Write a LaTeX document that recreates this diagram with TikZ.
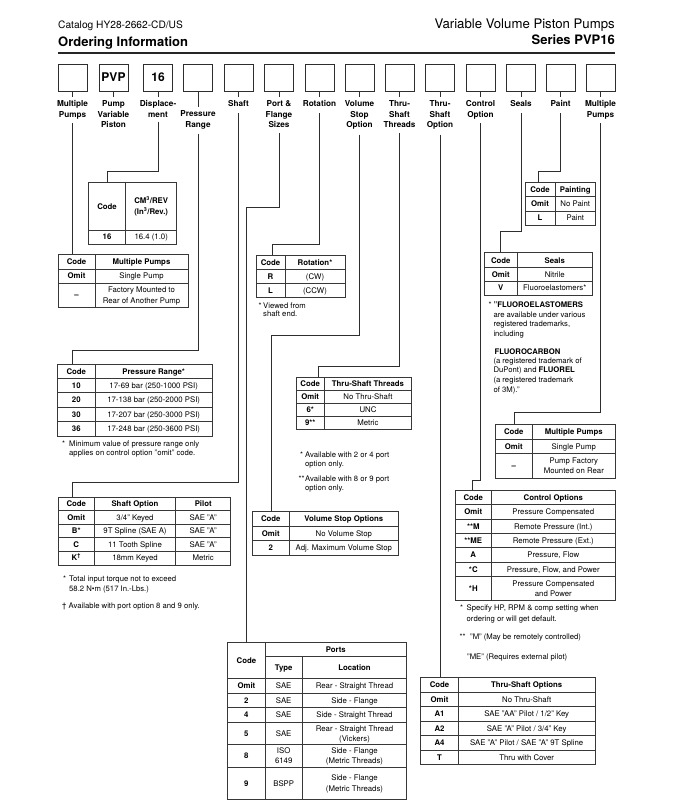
\documentclass[tikz,border=0pt]{standalone}
\usepackage{fontspec}
\setmainfont{TeX Gyre Heros}
\usetikzlibrary{calc}
\newcounter{cellno}
\tikzset{
 tab/.style={draw=black!78, line width=0.75pt},
 conn/.style={draw=black!82, line width=0.8pt},
 topbox/.style={draw=black!82, line width=0.9pt, minimum width=29pt, minimum height=27pt, inner sep=0pt, font=\bfseries\fontsize{12}{14}\selectfont},
 lbl/.style={font=\bfseries\fontsize{8.2}{10.5}\selectfont, align=center, inner sep=0pt, anchor=north},
 td/.style={font=\fontsize{7.8}{9}\selectfont, inner sep=0pt, text height=5.6pt, text depth=0pt},
 tdb/.style={font=\bfseries\fontsize{7.8}{9}\selectfont, inner sep=0pt, text height=5.6pt, text depth=0pt},
 fnote/.style={font=\fontsize{7.7}{9}\selectfont, inner sep=0pt, anchor=base west},
}
\newcommand\cell[3]{\stepcounter{cellno}\node[#1] (cell\thecellno) at (#2) {#3};}
\newcommand\fn[2]{\stepcounter{cellno}\node[fnote] (fn\thecellno) at (#1) {#2};}
\newcommand\tgrid[6]{%
 \draw[tab] (#1,#4) rectangle (#2,#5);
 \foreach \s in {#3} {\draw[tab] (\s,#4) -- (\s,#5);}
 \foreach \h in {#6} {\draw[tab] (#1,\h) -- (#2,\h);}
}
\begin{document}
\begin{tikzpicture}[x=1pt,y=-1pt]
\useasboundingbox (0,0) rectangle (672,810);

% header
\node[anchor=base west, inner sep=0pt, font=\fontsize{10.2}{11}\selectfont] (cat) at (58,28.6) {Catalog HY28-2662-CD/US};
\node[anchor=base west, inner sep=0pt, font=\bfseries\fontsize{13}{14}\selectfont] (ord) at (58,46.7) {Ordering Information};
\node[anchor=base east, inner sep=0pt, font=\fontsize{13.2}{15}\selectfont] (vv) at (615,28.7) {Variable Volume Piston Pumps};
\node[anchor=base east, inner sep=0pt, font=\bfseries\fontsize{13}{15}\selectfont] (ser) at (615,44.7) {Series PVP16};
\draw[line width=1.6pt, draw=black!85] (58,53) -- (615,53);

% top boxes
\node[topbox] (b1) at (72.5,77.5) {};
\node[topbox] (b2) at (113.5,77.5) {PVP};
\node[topbox] (b3) at (158,77.5) {16};
\node[topbox] (b4) at (198,77.5) {};
\node[topbox] (b5) at (238.5,77.5) {};
\node[topbox] (b6) at (279,77.5) {};
\node[topbox] (b7) at (319.5,77.5) {};
\node[topbox] (b8) at (359.5,77.5) {};
\node[topbox] (b9) at (399.5,77.5) {};
\node[topbox] (b10) at (440,77.5) {};
\node[topbox] (b11) at (480.5,77.5) {};
\node[topbox] (b12) at (521,77.5) {};
\node[topbox] (b13) at (560.5,77.5) {};
\node[topbox] (b14) at (600.5,77.5) {};

% labels
\node[lbl] (l1) at (72.5,100.5) {Multiple\\Pumps};
\node[lbl] (l2) at (113.5,100.5) {Pump\\Variable\\Piston};
\node[lbl] (l3) at (158,100.5) {Displace-\\ment};
\node[lbl] (l4) at (198,110.5) {Pressure\\Range};
\node[lbl] (l5) at (238.5,100.5) {Shaft};
\node[lbl] (l6) at (279,100.5) {Port \&\\Flange\\Sizes};
\node[lbl] (l7) at (319.5,100.5) {Rotation};
\node[lbl] (l8) at (359.5,100.5) {Volume\\Stop\\Option};
\node[lbl] (l9) at (399.5,100.5) {Thru-\\Shaft\\Threads};
\node[lbl] (l10) at (440,100.5) {Thru-\\Shaft\\Option};
\node[lbl] (l11) at (480.5,100.5) {Control\\Option};
\node[lbl] (l12) at (521,100.5) {Seals};
\node[lbl] (l13) at (560.5,100.5) {Paint};
\node[lbl] (l14) at (600.5,100.5) {Multiple\\Pumps};

% ticks
\foreach \i in {1,2,3,5,6,7,8,9,10,11,12,13,14} {\draw[conn] (b\i.south) -- ($(l\i.north)+(0,-3)$);}
\draw[conn] (b4.south) -- ($(l4.north)+(0,-3.5)$);

% table entry points
\coordinate (mpL-in) at (72.5,254);
\coordinate (disp-in) at (107.7,182.7);
\coordinate (pr-in) at (72.3,364.3);
\coordinate (sh-in) at (72.3,497.3);
\coordinate (po-in) at (246.5,642.3);
\coordinate (ro-in) at (272,255);
\coordinate (vs-in) at (271.7,511.7);
\coordinate (tt-in) at (318.3,377.3);
\coordinate (to-in) at (440,677.3);
\coordinate (co-in) at (472.7,490);
\coordinate (se-in) at (500.7,252.7);
\coordinate (pa-in) at (538.5,182.3);
\coordinate (mr-in) at (514.3,424.3);

% connectors
\draw[conn] ($(l1.south)+(0,4)$) -- (mpL-in);
\draw[conn] ($(l3.south)+(0,4)$) |- ($(disp-in)+(0,-11)$) -- (disp-in);
\draw[conn] ($(l4.south)+(0,5)$) |- ($(pr-in)+(0,-14.3)$) -- (pr-in);
\draw[conn] ($(l5.south)+(0,6)$) |- ($(sh-in)+(0,-15.3)$) -- (sh-in);
\draw[conn] ($(l6.south)+(0,5)$) |- ($(po-in)+(0,-434.6)$) -- (po-in);
\draw[conn] ($(l7.south)+(0,6)$) |- ($(ro-in)+(0,-11)$) -- (ro-in);
\draw[conn] ($(l8.south)+(0,5)$) |- ($(vs-in)+(0,-176)$) -- (vs-in);
\draw[conn] ($(l9.south)+(0,5)$) |- ($(tt-in)+(0,-11.3)$) -- (tt-in);
\draw[conn] ($(l10.south)+(0,5)$) -- (to-in);
\draw[conn] ($(l11.south)+(0,4)$) |- ($(co-in)+(0,-10)$) -- (co-in);
\draw[conn] ($(l12.south)+(0,6)$) |- ($(se-in)+(0,-21)$) -- (se-in);
\draw[conn] ($(l13.south)+(0,6)$) |- ($(pa-in)+(0,-11.3)$) -- (pa-in);
\draw[conn] ($(l14.south)+(0,4)$) |- ($(mr-in)+(0,-11.6)$) -- (mr-in);

% Displacement table
\tgrid{88.3}{176.7}{125.7}{182.7}{244}{230}
\cell{tdb}{107,206.3}{Code}
\cell{tdb}{151.2,201}{CM\textsuperscript{3}/REV}
\cell{tdb}{151.2,211.5}{(In\textsuperscript{3}/Rev.)}
\cell{tdb}{107,237}{16}
\cell{td}{151.2,237}{16.4 (1.0)}

% Multiple pumps (left)
\tgrid{58}{188}{95}{254}{307}{269,283}
\cell{tdb}{76.5,261.5}{Code}
\cell{tdb}{141.5,261.5}{Multiple Pumps}
\cell{tdb}{76.5,276}{Omit}
\cell{td}{141.5,276}{Single Pump}
\cell{tdb}{76.5,295}{–}
\cell{td}{141.5,290}{Factory Mounted to}
\cell{td}{141.5,300.5}{Rear of Another Pump}

% Pressure range
\tgrid{57.7}{212.3}{95}{364.3}{436}{378.3,392.7,407.3,421.7}
\cell{tdb}{76.3,371.3}{Code}
\cell{tdb}{153.7,371.3}{Pressure Range*}
\cell{tdb}{76.3,385.5}{10}
\cell{td}{153.7,385.5}{17-69 bar (250-1000 PSI)}
\cell{tdb}{76.3,400}{20}
\cell{td}{153.7,400}{17-138 bar (250-2000 PSI)}
\cell{tdb}{76.3,414.5}{30}
\cell{td}{153.7,414.5}{17-207 bar (250-3000 PSI)}
\cell{tdb}{76.3,428.9}{36}
\cell{td}{153.7,428.9}{17-248 bar (250-3600 PSI)}
\fn{62,446.6}{*}
\fn{69,446.6}{Minimum value of pressure range only}
\fn{69,455.6}{applies on control option "omit" code.}

% Shaft
\tgrid{58.3}{230.7}{94.3,175.7}{497.3}{565}{510.7,524,537.7,551}
\cell{tdb}{76.3,504}{Code}
\cell{tdb}{135,504}{Shaft Option}
\cell{tdb}{203.2,504}{Pilot}
\cell{tdb}{76.3,517.3}{Omit}
\cell{td}{135,517.3}{3/4" Keyed}
\cell{td}{203.2,517.3}{SAE "A"}
\cell{tdb}{76.3,530.9}{B*}
\cell{td}{135,530.9}{9T Spline (SAE A)}
\cell{td}{203.2,530.9}{SAE "A"}
\cell{tdb}{76.3,544.4}{C}
\cell{td}{135,544.4}{11 Tooth Spline}
\cell{td}{203.2,544.4}{SAE "A"}
\cell{tdb}{76.3,558}{K\textsuperscript{\textdagger}}
\cell{td}{135,558}{18mm Keyed}
\cell{td}{203.2,558}{Metric}
\fn{63,581.6}{*}
\fn{69,581.6}{Total input torque not to exceed}
\fn{69,591}{58.2 N•m (517 In.-Lbs.)}
\fn{62,608.6}{\textdagger}
\fn{68.5,608.6}{Available with port option 8 and 9 only.}

% Rotation
\tgrid{256}{345}{285}{255}{297.7}{269.3,283.3}
\cell{tdb}{270.5,262.2}{Code}
\cell{tdb}{315,262.2}{Rotation*}
\cell{tdb}{270.5,276.3}{R}
\cell{td}{315,276.3}{(CW)}
\cell{tdb}{270.5,290.5}{L}
\cell{td}{315,290.5}{(CCW)}
\fn{258.5,308.3}{*}
\fn{263,308.3}{Viewed from}
\fn{263,316.6}{shaft end.}

% Volume stop
\tgrid{252.3}{398.3}{289.3}{511.7}{555}{526,540.7}
\cell{tdb}{270.8,518.9}{Code}
\cell{tdb}{343.8,518.9}{Volume Stop Options}
\cell{tdb}{270.8,533.4}{Omit}
\cell{td}{343.8,533.4}{No Volume Stop}
\cell{tdb}{270.8,547.9}{2}
\cell{td}{343.8,547.9}{Adj. Maximum Volume Stop}

% Thru-shaft threads
\tgrid{296}{411.7}{324.3}{377.3}{429.3}{390,403.3,416.7}
\cell{tdb}{310.2,383.7}{Code}
\cell{tdb}{368,383.7}{Thru-Shaft Threads}
\cell{tdb}{310.2,396.7}{Omit}
\cell{td}{368,396.7}{No Thru-Shaft}
\cell{tdb}{310.2,410}{6*}
\cell{td}{368,410}{UNC}
\cell{tdb}{310.2,423}{9**}
\cell{td}{368,423}{Metric}
\fn{300,457.6}{*}
\fn{305,457.6}{Available with 2 or 4 port}
\fn{305,466}{option only.}
\fn{298.5,481.6}{**}
\fn{305,481.6}{Available with 8 or 9 port}
\fn{305,490}{option only.}

% Ports
\draw[tab] (227.7,642.3) rectangle (406.7,799);
\draw[tab] (265,642.3) -- (265,799);
\draw[tab] (302.3,656.7) -- (302.3,799);
\draw[tab] (265,656.7) -- (406.7,656.7);
\foreach \h in {678.3,693.3,707.7,722.3,744,767.3} {\draw[tab] (227.7,\h) -- (406.7,\h);}
\cell{tdb}{246.4,660.3}{Code}
\cell{tdb}{335.8,649.5}{Ports}
\cell{tdb}{283.7,667.5}{Type}
\cell{tdb}{354.5,667.5}{Location}
\cell{tdb}{246.4,685.8}{Omit}
\cell{td}{283.7,685.8}{SAE}
\cell{td}{354.5,685.8}{Rear - Straight Thread}
\cell{tdb}{246.4,700.5}{2}
\cell{td}{283.7,700.5}{SAE}
\cell{td}{354.5,700.5}{Side - Flange}
\cell{tdb}{246.4,715}{4}
\cell{td}{283.7,715}{SAE}
\cell{td}{354.5,715}{Side - Straight Thread}
\cell{tdb}{246.4,733.2}{5}
\cell{td}{283.7,733.2}{SAE}
\cell{td}{354.5,728.8}{Rear - Straight Thread}
\cell{td}{354.5,738.6}{(Vickers)}
\cell{tdb}{246.4,755.7}{8}
\cell{td}{283.7,751}{ISO}
\cell{td}{283.7,761}{6149}
\cell{td}{354.5,751}{Side - Flange}
\cell{td}{354.5,761}{(Metric Threads)}
\cell{tdb}{246.4,783.2}{9}
\cell{td}{283.7,783.2}{BSPP}
\cell{td}{354.5,778}{Side - Flange}
\cell{td}{354.5,788.5}{(Metric Threads)}

% Thru-shaft options
\tgrid{420.7}{595}{458.3}{677.3}{764.3}{692,706.7,721,735.7,750}
\cell{tdb}{439.5,684.7}{Code}
\cell{tdb}{526.7,684.7}{Thru-Shaft Options}
\cell{tdb}{439.5,699.3}{Omit}
\cell{td}{526.7,699.3}{No Thru-Shaft}
\cell{tdb}{439.5,713.8}{A1}
\cell{td}{526.7,713.8}{SAE "AA" Pilot / 1/2" Key}
\cell{tdb}{439.5,728.3}{A2}
\cell{td}{526.7,728.3}{SAE "A" Pilot / 3/4" Key}
\cell{tdb}{439.5,742.8}{A4}
\cell{td}{526.7,742.8}{SAE "A" Pilot / SAE "A" 9T Spline}
\cell{tdb}{439.5,757.2}{T}
\cell{td}{526.7,757.2}{Thru with Cover}

% Control options
\tgrid{455}{615}{491.7}{490}{600}{504.3,519,533.3,547.7,562.3,576.7}
\cell{tdb}{473.3,497.2}{Code}
\cell{tdb}{553.3,497.2}{Control Options}
\cell{tdb}{473.3,511.7}{Omit}
\cell{td}{553.3,511.7}{Pressure Compensated}
\cell{tdb}{473.3,526.2}{**M}
\cell{td}{553.3,526.2}{Remote Pressure (Int.)}
\cell{tdb}{473.3,540.5}{**ME}
\cell{td}{553.3,540.5}{Remote Pressure (Ext.)}
\cell{tdb}{473.3,555}{A}
\cell{td}{553.3,555}{Pressure, Flow}
\cell{tdb}{473.3,569.5}{*C}
\cell{td}{553.3,569.5}{Pressure, Flow, and Power}
\cell{tdb}{473.3,588.3}{*H}
\cell{td}{553.3,583.3}{Pressure Compensated}
\cell{td}{553.3,593.3}{and Power}
\fn{460,610}{*}
\fn{466.5,610}{Specify HP, RPM \& comp setting when}
\fn{466.5,621}{ordering or will get default.}
\fn{459.5,639.3}{**}
\fn{470,639.3}{"M" (May be remotely controlled)}
\fn{467,659.6}{"ME" (Requires external pilot)}

% Multiple pumps (right)
\tgrid{495}{615}{532.7}{424.3}{478.3}{439.3,453.3}
\cell{tdb}{513.8,431.8}{Code}
\cell{tdb}{573.8,431.8}{Multiple Pumps}
\cell{tdb}{513.8,446.3}{Omit}
\cell{td}{573.8,446.3}{Single Pump}
\cell{tdb}{513.8,465.8}{–}
\cell{td}{573.8,461}{Pump Factory}
\cell{td}{573.8,470.7}{Mounted on Rear}

% Seals
\tgrid{484.3}{592.3}{517.3}{252.7}{295}{267.7,281}
\cell{tdb}{500.8,260.2}{Code}
\cell{tdb}{554.8,260.2}{Seals}
\cell{tdb}{500.8,274.3}{Omit}
\cell{td}{554.8,274.3}{Nitrile}
\cell{tdb}{500.8,288}{V}
\cell{td}{554.8,288}{Fluoroelastomers*}
\fn{488.3,307}{*}
\fn{493.3,307}{\bfseries "FLUOROELASTOMERS}
\fn{493.3,317}{are available under various}
\fn{493.3,326.7}{registered trademarks,}
\fn{493.3,336}{including}
\fn{494.5,354.3}{\bfseries FLUOROCARBON}
\fn{493.3,363.7}{(a registered trademark of}
\fn{493.3,372.7}{DuPont) and \textbf{FLUOREL}}
\fn{493.3,382.7}{(a registered trademark}
\fn{493.3,392.7}{of 3M)."}

% Paint
\tgrid{525}{595.7}{555}{182.3}{225}{196.7,211}
\cell{tdb}{540,189.5}{Code}
\cell{tdb}{575.3,189.5}{Painting}
\cell{tdb}{540,203.8}{Omit}
\cell{td}{575.3,203.8}{No Paint}
\cell{tdb}{540,218}{L}
\cell{td}{575.3,218}{Paint}
\end{tikzpicture}
\end{document}
